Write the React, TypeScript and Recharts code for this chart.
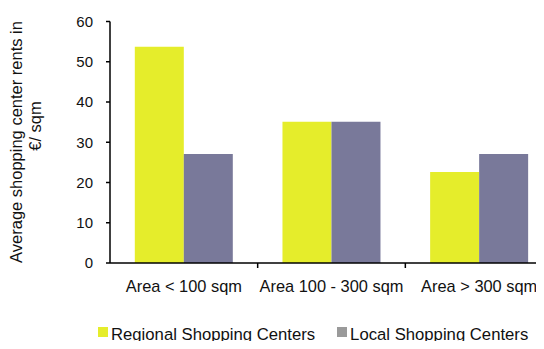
import { BarChart, Bar, XAxis, YAxis, ReferenceLine } from "recharts";

const categories = ["Area < 100 sqm", "Area 100 - 300 sqm", "Area > 300 sqm"];
const regional = [53.7, 35.1, 22.6];
const local = [27.1, 35.1, 27.1];
const yTicks = [0, 10, 20, 30, 40, 50, 60];
const seriesNames = ["Regional Shopping Centers", "Local Shopping Centers"];

const data = categories.map((name, i) => ({ name, regional: regional[i], local: local[i] }));

const FONT = "'Liberation Sans', Arial, sans-serif";
const YELLOW = "#e5ed2b";
const PURPLE = "#79799a";
const LEGEND_GRAY = "#9a9a9a";

const CHART_W = 553;
const Y_W = 110;
const PLOT_W = CHART_W - Y_W;
const TICK_MARGIN = 13;
const TICK_SIZE = 4;

function XTick(props: any) {
  const { x, y, payload, index } = props;
  const band = PLOT_W / categories.length;
  return (
    <g>
      {index < categories.length - 1 && (
        <line x1={x + band / 2} x2={x + band / 2} y1={y} y2={y + 5} stroke="#000" strokeWidth={1.5} />
      )}
      <text x={x} y={y + 29} textAnchor="middle" fontFamily={FONT} fontSize={16.4} fill="#111">
        {payload.value}
      </text>
    </g>
  );
}

function YTick(props: any) {
  const { x, y, payload } = props;
  return (
    <g>
      <line x1={x + TICK_MARGIN} x2={x + TICK_MARGIN + TICK_SIZE} y1={y} y2={y} stroke="#000" strokeWidth={1.5} />
      <text x={x} y={y} dy="0.36em" textAnchor="end" fontFamily={FONT} fontSize={15} fill="#111">
        {payload.value}
      </text>
    </g>
  );
}

function YLabel() {
  return (
    <g fontFamily={FONT} fontSize={16.5} fill="#111">
      <text transform="translate(22, 142) rotate(-90)" textAnchor="middle">
        Average shopping center rents in
      </text>
      <text transform="translate(41, 126) rotate(-90)" textAnchor="middle">
        €/ sqm
      </text>
    </g>
  );
}

export default function App() {
  const colors = [YELLOW, LEGEND_GRAY];
  return (
    <div style={{ margin: -8, width: 544, height: 349, overflow: "hidden", background: "#fff", position: "relative" }}>
      <BarChart
        width={CHART_W}
        height={349}
        data={data}
        margin={{ top: 21.5, right: 0, bottom: 46, left: 0 }}
        barCategoryGap="16.8%"
        barGap={0}
      >
        <YAxis
          domain={[0, 60]}
          ticks={yTicks}
          width={Y_W}
          tickSize={TICK_SIZE}
          tickMargin={TICK_MARGIN}
          axisLine={false}
          tickLine={false}
          tick={<YTick />}
          label={<YLabel />}
        />
        <XAxis
          dataKey="name"
          height={40}
          tickLine={false}
          tickSize={0}
          tickMargin={0}
          axisLine={false}
          tick={<XTick />}
          interval={0}
        />
        <Bar dataKey="regional" name={seriesNames[0]} fill={YELLOW} isAnimationActive={false} />
        <Bar dataKey="local" name={seriesNames[1]} fill={PURPLE} isAnimationActive={false} />
        <ReferenceLine y={0} stroke="#000" strokeWidth={1.5} ifOverflow="visible" />
        <ReferenceLine x={categories[0]} position="start" stroke="#000" strokeWidth={1.5} ifOverflow="visible" />
      </BarChart>
      <div
        style={{
          position: "absolute",
          left: 98,
          top: 325,
          display: "flex",
          fontFamily: FONT,
          fontSize: 16.7,
          lineHeight: "20px",
          color: "#111",
          whiteSpace: "nowrap",
        }}
      >
        {seriesNames.map((n, i) => (
          <div key={n} style={{ display: "flex", alignItems: "flex-start", marginRight: 22 }}>
            <span style={{ width: 10, height: 10, marginTop: 2, background: colors[i], marginRight: 3, display: "inline-block" }} />
            <span>{n}</span>
          </div>
        ))}
      </div>
    </div>
  );
}
